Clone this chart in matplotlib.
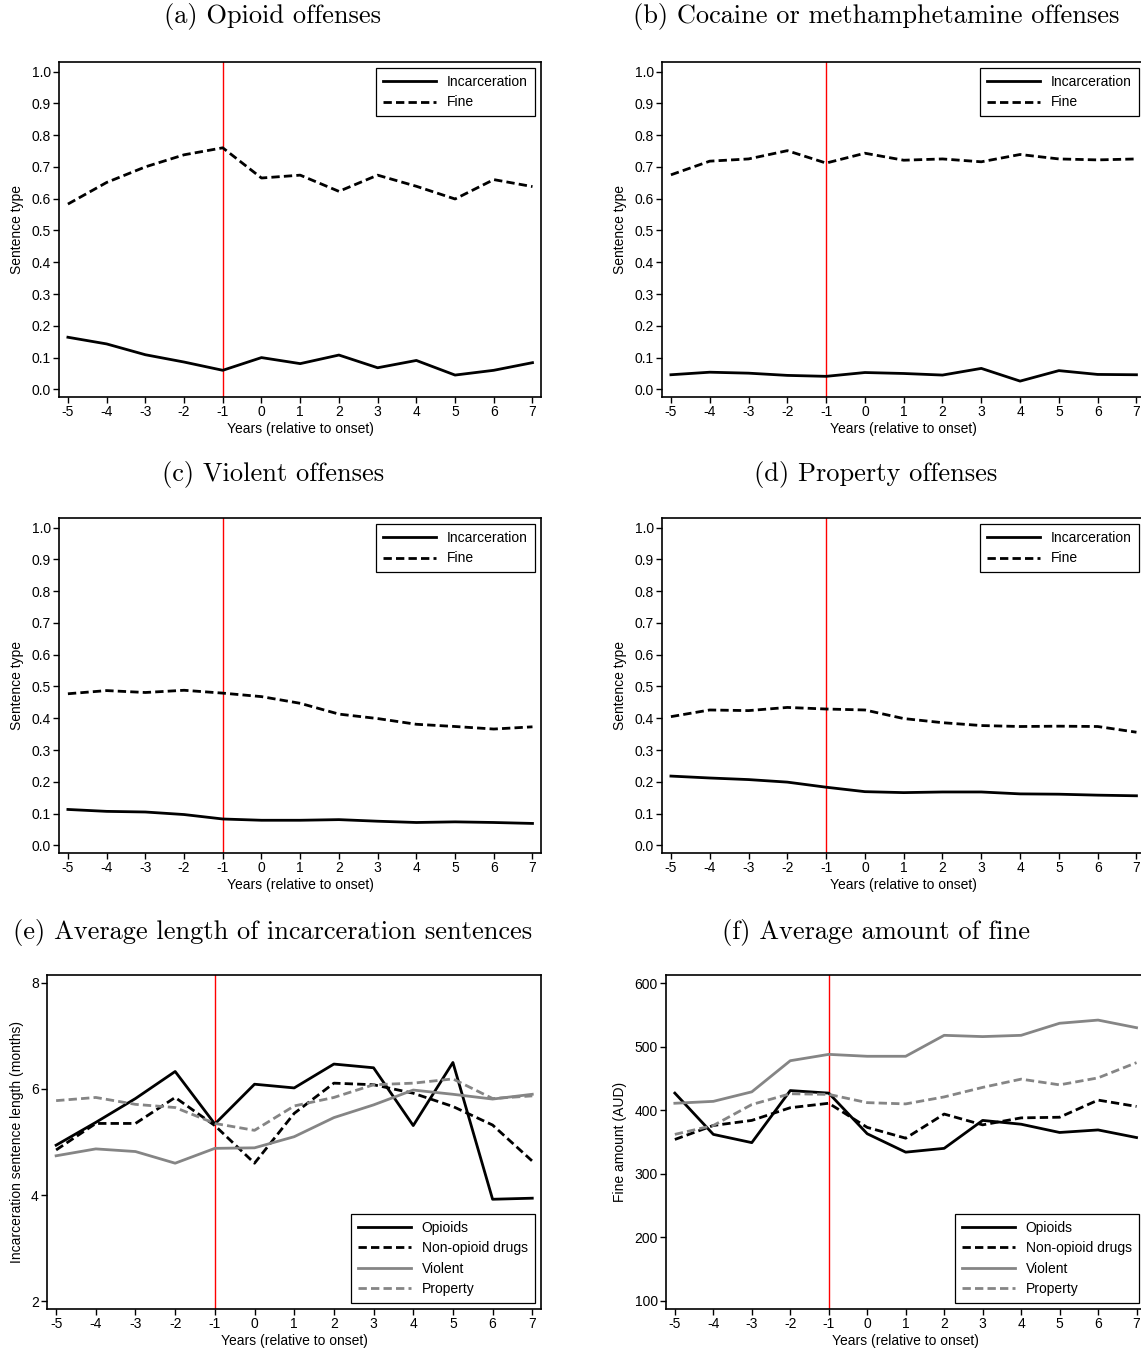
import numpy as np
import matplotlib.pyplot as plt

plt.rcParams['font.family'] = ['Liberation Sans', 'DejaVu Sans']
plt.rcParams['axes.unicode_minus'] = False

years = [-5, -4, -3, -2, -1, 0, 1, 2, 3, 4, 5, 6, 7]

# sentence type shares (incarceration / fine)
opioid_inc = [0.164, 0.143, 0.109, 0.086, 0.060, 0.100, 0.081, 0.108, 0.068, 0.091, 0.045, 0.060, 0.084]
opioid_fine = [0.583, 0.651, 0.700, 0.738, 0.760, 0.665, 0.674, 0.623, 0.674, 0.639, 0.599, 0.660, 0.638]
cocaine_inc = [0.046, 0.054, 0.051, 0.044, 0.041, 0.053, 0.050, 0.045, 0.066, 0.026, 0.059, 0.047, 0.046]
cocaine_fine = [0.675, 0.718, 0.725, 0.751, 0.712, 0.743, 0.721, 0.725, 0.716, 0.739, 0.725, 0.722, 0.725]
violent_inc = [0.113, 0.107, 0.105, 0.097, 0.083, 0.079, 0.079, 0.081, 0.076, 0.072, 0.074, 0.072, 0.069]
violent_fine = [0.477, 0.487, 0.481, 0.488, 0.479, 0.468, 0.447, 0.413, 0.399, 0.381, 0.374, 0.366, 0.373]
property_inc = [0.218, 0.212, 0.207, 0.199, 0.183, 0.169, 0.166, 0.168, 0.168, 0.162, 0.161, 0.158, 0.156]
property_fine = [0.405, 0.426, 0.424, 0.434, 0.429, 0.426, 0.399, 0.386, 0.377, 0.374, 0.375, 0.374, 0.356]

# average incarceration length (months)
len_opioids = [4.94, 5.37, 5.82, 6.33, 5.34, 6.09, 6.02, 6.47, 6.40, 5.31, 6.50, 3.92, 3.94]
len_nonopioid = [4.85, 5.35, 5.35, 5.84, 5.31, 4.60, 5.54, 6.11, 6.08, 5.92, 5.67, 5.32, 4.64]
len_violent = [4.74, 4.87, 4.82, 4.60, 4.88, 4.89, 5.10, 5.46, 5.70, 5.98, 5.90, 5.81, 5.90]
len_property = [5.78, 5.84, 5.71, 5.65, 5.35, 5.22, 5.68, 5.84, 6.08, 6.11, 6.19, 5.82, 5.87]

# average fine amount (AUD)
fine_opioids = [427, 362, 349, 431, 427, 363, 334, 340, 384, 378, 365, 369, 357]
fine_nonopioid = [354, 376, 384, 404, 411, 373, 356, 394, 377, 388, 389, 416, 406]
fine_violent = [411, 414, 429, 478, 488, 485, 485, 518, 516, 518, 537, 542, 530]
fine_property = [362, 376, 409, 426, 425, 412, 410, 421, 436, 449, 440, 451, 475]

titles = ['(a) Opioid offenses', '(b) Cocaine or methamphetamine offenses',
          '(c) Violent offenses', '(d) Property offenses',
          '(e) Average length of incarceration sentences', '(f) Average amount of fine']

W, H = 1141, 1353
fig = plt.figure(figsize=(W / 100, H / 100), dpi=100)

def px_axes(l, t, r, b):
    return fig.add_axes([l / W, 1 - b / H, (r - l) / W, (b - t) / H])

GREY = '#858585'
LW = 2.0
DASH = (3.0, 1.5)
FS = 10

def style(ax, ylabel):
    ax.set_xlim(-5.23, 7.22)
    ax.set_xticks(years)
    ax.axvline(-1, color='red', lw=1.0, zorder=1)
    ax.set_xlabel('Years (relative to onset)', fontsize=FS, labelpad=2)
    ax.set_ylabel(ylabel, fontsize=FS, labelpad=5)
    ax.tick_params(direction='out', length=4, width=1, labelsize=FS, pad=2)
    for s in ax.spines.values():
        s.set_linewidth(1.2)

def add_legend(ax, loc):
    leg = ax.legend(loc=loc, fontsize=10, handlelength=3.8, fancybox=False,
                    edgecolor='black', framealpha=1, borderaxespad=0.45,
                    labelspacing=0.45, handletextpad=0.8, borderpad=0.5)
    leg.get_frame().set_linewidth(0.9)

def share_panel(ax, inc, fine):
    ax.plot(years, inc, color='black', lw=LW, label='Incarceration', zorder=3)
    ax.plot(years, fine, color='black', lw=LW, dashes=DASH, label='Fine', zorder=3)
    ax.set_ylim(-0.024, 1.03)
    ax.set_yticks(np.arange(0, 1.01, 0.1))
    ax.set_yticklabels(['%.1f' % v for v in np.arange(0, 1.01, 0.1)])
    style(ax, 'Sentence type')
    add_legend(ax, 'upper right')

def group_panel(ax, a, b, c, d):
    ax.plot(years, a, color='black', lw=LW, label='Opioids', zorder=3)
    ax.plot(years, b, color='black', lw=LW, dashes=DASH, label='Non-opioid drugs', zorder=3)
    ax.plot(years, c, color=GREY, lw=LW, label='Violent', zorder=3)
    ax.plot(years, d, color=GREY, lw=LW, dashes=DASH, label='Property', zorder=3)
    add_legend(ax, 'lower right')

ax_a = px_axes(59, 62, 541, 397)
ax_b = px_axes(662, 62, 1145, 397)
ax_c = px_axes(59, 518, 541, 853)
ax_d = px_axes(662, 518, 1145, 853)
ax_e = px_axes(47, 975, 541, 1309)
ax_f = px_axes(666, 975, 1145, 1309)

share_panel(ax_a, opioid_inc, opioid_fine)
share_panel(ax_b, cocaine_inc, cocaine_fine)
share_panel(ax_c, violent_inc, violent_fine)
share_panel(ax_d, property_inc, property_fine)

group_panel(ax_e, len_opioids, len_nonopioid, len_violent, len_property)
ax_e.set_ylim(1.85, 8.15)
ax_e.set_yticks([2, 4, 6, 8])
style(ax_e, 'Incarceration sentence length (months)')

group_panel(ax_f, fine_opioids, fine_nonopioid, fine_violent, fine_property)
ax_f.set_ylim(87, 613)
ax_f.set_yticks([100, 200, 300, 400, 500, 600])
style(ax_f, 'Fine amount (AUD)')

# panel titles
tx = [273, 876]
ty = [16, 475, 932]
for i, t in enumerate(titles):
    fig.text(tx[i % 2] / W, 1 - ty[i // 2] / H, t, ha='center', va='center',
             fontsize=19, family='cmr10')

plt.savefig('out.png', dpi=100)
